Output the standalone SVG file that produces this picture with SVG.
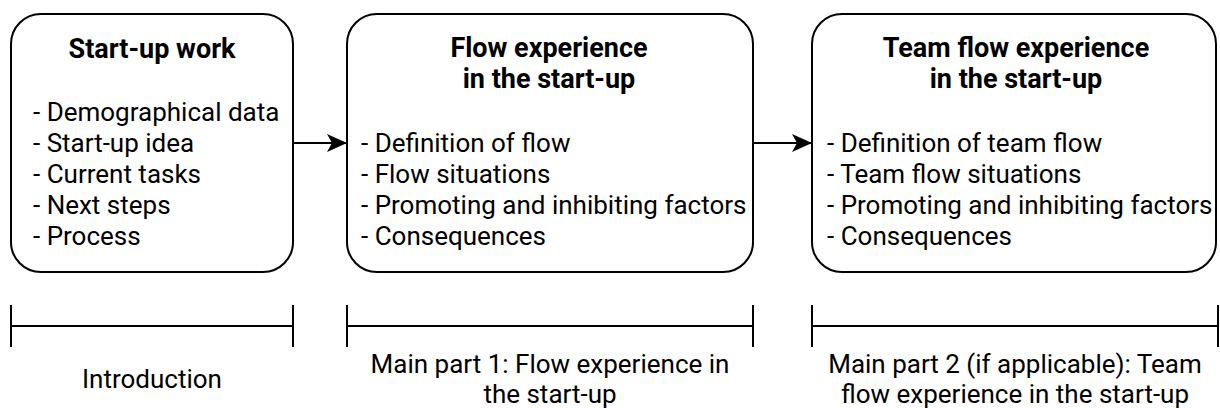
<svg xmlns="http://www.w3.org/2000/svg" width="1220" height="408" viewBox="0 0 1220 408">
  <style>
    .box { fill: #ffffff; stroke: #000000; stroke-width: 2; }
    .edge { fill: none; stroke: #000000; stroke-width: 2; }
    .bar { fill: none; stroke: #000000; stroke-width: 2; }
    text { font-family: Roboto, "Liberation Sans", sans-serif; font-size: 26px; fill: #000000; }
    .title { font-weight: bold; font-size: 27px; text-anchor: middle; }
    .label { text-anchor: middle; }
  </style>
  <defs>
    <marker id="arrow" markerWidth="20" markerHeight="18" refX="20" refY="9" orient="auto" markerUnits="userSpaceOnUse">
      <path d="M0,0 L20,9 L0,18 L5,9 Z" fill="#000000"/>
    </marker>
  </defs>
  <rect width="1220" height="408" fill="#ffffff"/>

  <g id="node-startup-work">
    <rect class="box" x="11" y="14" width="282" height="258" rx="30" ry="30"/>
    <text class="title" x="152" y="58">Start-up work</text>
    <text x="33" y="121">- Demographical data</text>
    <text x="33" y="152">- Start-up idea</text>
    <text x="33" y="183">- Current tasks</text>
    <text x="33" y="214">- Next steps</text>
    <text x="33" y="245">- Process</text>
  </g>

  <g id="node-flow-experience">
    <rect class="box" x="347" y="14" width="406" height="258" rx="30" ry="30"/>
    <text class="title" x="549" y="57">Flow experience</text>
    <text class="title" x="549" y="88">in the start-up</text>
    <text x="361" y="152">- Definition of flow</text>
    <text x="361" y="183">- Flow situations</text>
    <text x="361" y="214">- Promoting and inhibiting factors</text>
    <text x="361" y="245">- Consequences</text>
  </g>

  <g id="node-team-flow-experience">
    <rect class="box" x="812" y="14" width="404" height="258" rx="30" ry="30"/>
    <text class="title" x="1016" y="57">Team flow experience</text>
    <text class="title" x="1016" y="88">in the start-up</text>
    <text x="827" y="152">- Definition of team flow</text>
    <text x="827" y="183">- Team flow situations</text>
    <text x="827" y="214">- Promoting and inhibiting factors</text>
    <text x="827" y="245">- Consequences</text>
  </g>

  <g id="connectors">
    <line class="edge" x1="293" y1="143" x2="347" y2="143" marker-end="url(#arrow)"/>
    <line class="edge" x1="753" y1="143" x2="812" y2="143" marker-end="url(#arrow)"/>
  </g>

  <g id="section-introduction">
    <path class="bar" d="M11,305 V347 M11,326 H293 M293,305 V347"/>
    <text class="label" x="152" y="388">Introduction</text>
  </g>

  <g id="section-main-part-1">
    <path class="bar" d="M347,305 V347 M347,326 H753 M753,305 V347"/>
    <text class="label" x="550" y="373">Main part 1: Flow experience in</text>
    <text class="label" x="550" y="403">the start-up</text>
  </g>

  <g id="section-main-part-2">
    <path class="bar" d="M812,305 V347 M812,326 H1218 M1218,305 V347"/>
    <text class="label" x="1015" y="373">Main part 2 (if applicable): Team</text>
    <text class="label" x="1015" y="403">flow experience in the start-up</text>
  </g>
</svg>
